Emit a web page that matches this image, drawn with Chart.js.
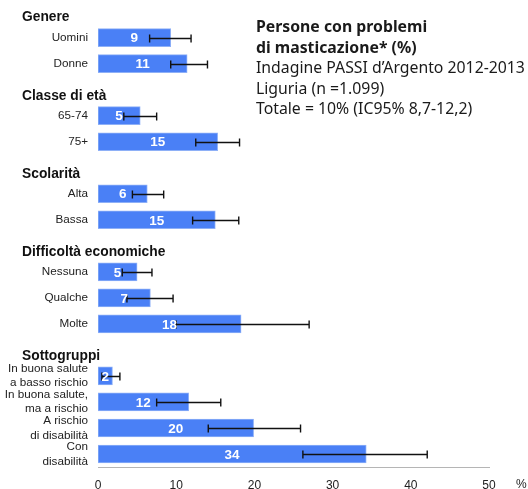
<!DOCTYPE html>
<html lang="it">
<head>
  <meta charset="UTF-8">
  <title>Persone con problemi di masticazione</title>
  <style>
    body{margin:0;padding:0;background:#fff;}
    #wrap{position:relative;width:528px;height:489px;}
    #title{position:absolute;left:256px;top:16px;font-family:"Noto Sans",Arial,sans-serif;font-size:15.8px;line-height:20.6px;color:#1a1a1a;white-space:nowrap;}
    #title b{font-weight:700;}
    #pct{position:absolute;left:516px;top:477px;font-family:"Liberation Sans",Arial,sans-serif;font-size:12px;color:#222;}
  </style>
  <script src="https://cdn.jsdelivr.net/npm/chart.js"></script>
</head>
<body>
<div id="wrap">
  <canvas id="c" width="528" height="489"></canvas>
  <div id="title">
    <b>Persone con problemi</b><br>
    <b>di masticazione* (%)</b><br>
    Indagine PASSI d’Argento 2012-2013<br>
    Liguria (n =1.099)<br>
    Totale = 10% (IC95% 8,7-12,2)
  </div>
  <div id="pct">%</div>
</div>
<script>
/* ===== Data (blank slots = gaps under group headers) ===== */
const labels=["Uomini","Donne","","65-74","75+","","Alta","Bassa","","Nessuna","Qualche","Molte","",
  ["In buona salute","a basso rischio"],["In buona salute,","ma a rischio"],["A rischio","di disabilità"],["Con","disabilità"]];
const values=[9.3,11.4,null,5.4,15.3,null,6.3,15.0,null,5.0,6.7,18.3,null,1.85,11.6,19.9,34.3];
const ciLow =[6.6,9.3,null,3.3,12.5,null,4.4,12.1,null,3.1,3.7,10.0,null,0.5,7.5,14.1,26.2];
const ciHigh=[11.9,14.0,null,7.5,18.1,null,8.4,18.0,null,6.9,9.6,27.0,null,2.8,15.7,25.9,42.1];
const groupNames=["Genere","Classe di età","Scolarità","Difficoltà economiche","Sottogruppi"];
const groupStart=[0,3,6,9,13];
const xTicks=[0,10,20,30,40,50];

/* ===== Plugins ===== */
const extras={
  id:"extras",
  afterDatasetsDraw(chart){
    const ctx=chart.ctx,x=chart.scales.x,y=chart.scales.y;
    ctx.save();
    // error bars
    ctx.strokeStyle="#111";ctx.lineWidth=1.4;
    values.forEach((v,i)=>{
      if(v==null)return;
      const yy=Math.round(y.getPixelForValue(i))+0.5;
      const x1=x.getPixelForValue(ciLow[i]),x2=x.getPixelForValue(ciHigh[i]);
      ctx.beginPath();
      ctx.moveTo(x1,yy);ctx.lineTo(x2,yy);
      ctx.moveTo(x1,yy-4);ctx.lineTo(x1,yy+4);
      ctx.moveTo(x2,yy-4);ctx.lineTo(x2,yy+4);
      ctx.stroke();
    });
    // value labels
    ctx.fillStyle="#fff";ctx.font="bold 13.5px 'Liberation Sans',Arial,sans-serif";
    ctx.textAlign="center";ctx.textBaseline="middle";
    values.forEach((v,i)=>{
      if(v==null)return;
      const xc=(x.getPixelForValue(0)+x.getPixelForValue(v))/2;
      ctx.fillText(String(Math.round(v)),xc,y.getPixelForValue(i)+1);
    });
    // group headers
    ctx.fillStyle="#111";ctx.font="bold 13.8px 'Liberation Sans',Arial,sans-serif";
    ctx.textAlign="left";
    groupNames.forEach((g,k)=>{
      ctx.fillText(g,22,y.getPixelForValue(groupStart[k])-20);
    });
    ctx.restore();
  }
};

/* ===== Chart ===== */
new Chart(document.getElementById("c"),{
  type:"bar",
  data:{labels:labels,datasets:[{data:values,backgroundColor:"#4a80f6",borderColor:"#8eb0f7",borderWidth:1,
    borderSkipped:false,barThickness:18}]},
  options:{
    indexAxis:"y",responsive:false,animation:false,
    layout:{padding:{top:24,right:39,left:0,bottom:0}},
    plugins:{legend:{display:false},tooltip:{enabled:false}},
    scales:{
      x:{min:0,max:50,
        afterBuildTicks(s){s.ticks=xTicks.map(v=>({value:v}));},
        afterFit(s){s.height=22;},
        grid:{display:false,drawTicks:true,tickLength:5,tickColor:"#b5b5b5"},
        border:{color:"#b5b5b5",width:1},
        ticks:{color:"#222",padding:6,font:{family:"'Liberation Sans',Arial,sans-serif",size:12}}},
      y:{
        afterFit(s){s.width=98;},
        grid:{display:false,drawTicks:false},border:{display:false},
        ticks:{color:"#222",padding:10,autoSkip:false,font:{family:"'Liberation Sans',Arial,sans-serif",size:11.7,lineHeight:1.25}}}
    }
  },
  plugins:[extras]
});
</script>
</body>
</html>
